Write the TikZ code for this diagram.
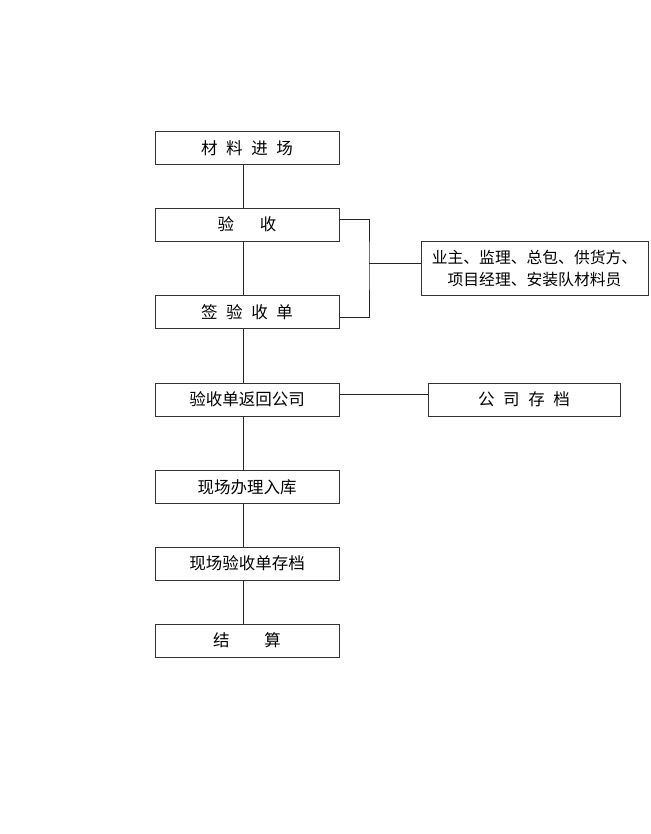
\documentclass[tikz,border=0pt]{standalone}
\usepackage{fontspec}
\setmainfont{Noto Sans CJK SC}
\newcommand\sgap{\hspace{0.52em}}
\newcommand\wgap{\hspace{1.55em}}
\tikzset{
  stepbox/.style={draw=black!80, line width=0.8pt, minimum width=184pt,
    minimum height=33pt, inner sep=0pt, font=\fontsize{16.5pt}{22pt}\selectfont},
  sidebox/.style={stepbox, minimum width=192pt},
  link/.style={draw=black!85, line width=0.8pt}
}
\begin{document}
\begin{tikzpicture}[x=1pt, y=-1pt]
    \useasboundingbox[fill=white] (0,0) rectangle (650,834);
    % main column
    \node[stepbox] (s1) at (247,148)   {材\sgap 料\sgap 进\sgap 场};
    \node[stepbox] (s2) at (247,224.5) {验\wgap 收};
    \node[stepbox] (s3) at (247,312)   {签\sgap 验\sgap 收\sgap 单};
    \node[stepbox] (s4) at (247,399.5) {验收单返回公司};
    \node[stepbox] (s5) at (247,487)   {现场办理入库};
    \node[stepbox] (s6) at (247,563.5) {现场验收单存档};
    \node[stepbox] (s7) at (247,640.5) {结\hspace{2.1em}算};
    % side boxes
    \node[stepbox, minimum width=227pt, minimum height=54pt, align=center,
        font=\fontsize{15.8pt}{22pt}\selectfont] (who) at (534.5,268)
        {业主、监理、总包、供货方、\\项目经理、安装队材料员};
    \node[sidebox] (arch) at (524,399.5) {公\sgap 司\sgap 存\sgap 档};
    % vertical links
    \foreach \a/\b in {s1/s2, s2/s3, s3/s4, s4/s5, s5/s6, s6/s7}
        \draw[link] ([xshift=-4pt]\a.south) -- ([xshift=-4pt]\b.north);
    % bracket to the parties
    \coordinate (brk) at (369,263);
    \draw[link] ([yshift=5.5pt]s2.east) -| (brk) |- ([yshift=-5pt]s3.east);
    \draw[link] (brk) -- (brk -| who.west);
    % archive link
    \draw[link] ([yshift=5.5pt]s4.east) -- ([yshift=5.5pt]s4.east -| arch.west);
\end{tikzpicture}
\end{document}
